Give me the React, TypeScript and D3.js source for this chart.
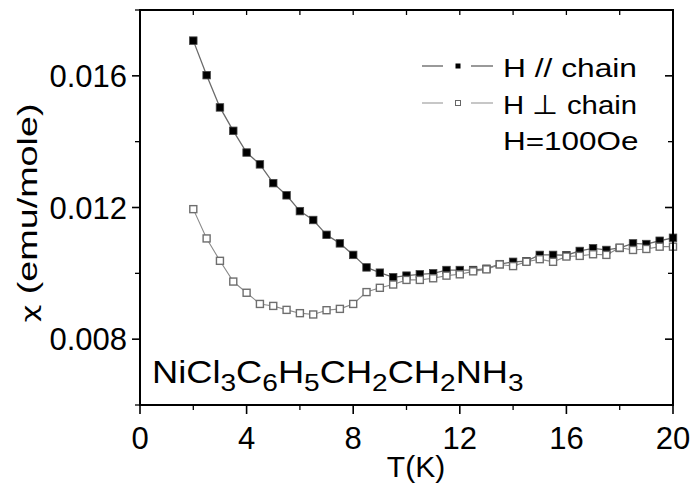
import React from "react";
import * as d3 from "d3";

const temps = [2, 2.5, 3, 3.5, 4, 4.5, 5, 5.5, 6, 6.5, 7, 7.5, 8, 8.5, 9, 9.5, 10, 10.5, 11, 11.5, 12, 12.5, 13, 13.5, 14, 14.5, 15, 15.5, 16, 16.5, 17, 17.5, 18, 18.5, 19, 19.5, 20];
const chiParallel = [0.01707, 0.01602, 0.01504, 0.01433, 0.01367, 0.01331, 0.01274, 0.01237, 0.01189, 0.01162, 0.01117, 0.01091, 0.01056, 0.01018, 0.01002, 0.00988, 0.00993, 0.00997, 0.01000, 0.01010, 0.01010, 0.01010, 0.01014, 0.01028, 0.01035, 0.01037, 0.01056, 0.01056, 0.01055, 0.01068, 0.01076, 0.01071, 0.01077, 0.01091, 0.01089, 0.01099, 0.01108];
const chiPerp = [0.01195, 0.01106, 0.01038, 0.00975, 0.00941, 0.00907, 0.00901, 0.00889, 0.00879, 0.00875, 0.00888, 0.00892, 0.00907, 0.00943, 0.00956, 0.00966, 0.00980, 0.00980, 0.00985, 0.00993, 0.00997, 0.01006, 0.01012, 0.01027, 0.01022, 0.01035, 0.01043, 0.01035, 0.01051, 0.01053, 0.01058, 0.01056, 0.01078, 0.01071, 0.01074, 0.01081, 0.01081];
const xMajorTicks = [0, 4, 8, 12, 16, 20];
const xMinorTicks = [2, 6, 10, 14, 18];
const yMajorTicks = [0.008, 0.012, 0.016];
const yMinorTicks = [0.006, 0.010, 0.014, 0.018];
const legendLabels = ["H // chain", "H \u22A5 chain", "H=100Oe"];

const FONT = "'Liberation Sans', Arial, sans-serif";

export default function App() {
  const left = 140, right = 673, top = 10, bottom = 405;
  const x = d3.scaleLinear().domain([0, 20]).range([left, right]);
  const y = d3.scaleLinear().domain([0.006, 0.018]).range([bottom, top]);
  const line = d3.line<number>().x((_, i) => x(temps[i])).y((d) => y(d));
  const ms = 7.5;
  const mo = 7;

  return (
    <div style={{ position: "fixed", left: 0, top: 0 }}>
      <svg width={692} height={489} style={{ display: "block", background: "#fff" }}>
        <path d={line(chiParallel) || ""} fill="none" stroke="#6a6a6a" strokeWidth={1.3} />
        <path d={line(chiPerp) || ""} fill="none" stroke="#8a8a8a" strokeWidth={1.1} />
        {chiParallel.map((v, i) => (
          <rect key={"p" + i} x={x(temps[i]) - ms / 2} y={y(v) - ms / 2} width={ms} height={ms} fill="#000" stroke="#444" strokeWidth={0.8} />
        ))}
        {chiPerp.map((v, i) => (
          <rect key={"o" + i} x={x(temps[i]) - mo / 2} y={y(v) - mo / 2} width={mo} height={mo} fill="#fff" stroke="#6e6e6e" strokeWidth={1.4} />
        ))}
        <rect x={left} y={top} width={right - left} height={bottom - top} fill="none" stroke="#000" strokeWidth={2} />
        {xMajorTicks.map((t) => (
          <line key={"xb" + t} x1={x(t)} x2={x(t)} y1={bottom} y2={bottom + 9} stroke="#000" strokeWidth={1.6} />
        ))}
        {xMinorTicks.map((t) => (
          <line key={"xbm" + t} x1={x(t)} x2={x(t)} y1={bottom} y2={bottom + 5} stroke="#000" strokeWidth={1.3} />
        ))}
        {[...xMajorTicks, ...xMinorTicks].map((t) => (
          <line key={"xt" + t} x1={x(t)} x2={x(t)} y1={top} y2={top + 5} stroke="#000" strokeWidth={1.3} />
        ))}
        {yMajorTicks.map((t) => (
          <line key={"yl" + t} x1={left - 8} x2={left} y1={y(t)} y2={y(t)} stroke="#000" strokeWidth={1.6} />
        ))}
        {yMinorTicks.map((t) => (
          <line key={"ylm" + t} x1={left - 5} x2={left} y1={y(t)} y2={y(t)} stroke="#000" strokeWidth={1.3} />
        ))}
        {yMajorTicks.map((t) => (
          <line key={"yr" + t} x1={right - 8} x2={right} y1={y(t)} y2={y(t)} stroke="#000" strokeWidth={1.6} />
        ))}
        {yMinorTicks.map((t) => (
          <line key={"yrm" + t} x1={right - 5} x2={right} y1={y(t)} y2={y(t)} stroke="#000" strokeWidth={1.3} />
        ))}
        {xMajorTicks.map((t) => (
          <text key={"xl" + t} x={x(t)} y={449} textAnchor="middle" fontFamily={FONT} fontSize={31} fill="#000">
            {t}
          </text>
        ))}
        {yMajorTicks.map((t) => (
          <text key={"ylb" + t} x={127} y={y(t) + 11} textAnchor="end" fontFamily={FONT} fontSize={31} fill="#000">
            {d3.format(".3f")(t)}
          </text>
        ))}
        <text x={416} y={477} textAnchor="middle" fontFamily={FONT} fontSize={30} fill="#000">T(K)</text>
        <g transform="translate(37,213) rotate(-90)">
          <text x={0} y={0} textAnchor="middle" fontFamily={FONT} fontSize={27} fill="#000" textLength={219} lengthAdjust="spacingAndGlyphs">
            <tspan fontFamily="'DejaVu Sans', sans-serif" fontSize={22}>{"\u03C7"}</tspan>
            {" (emu/mole)"}
          </text>
        </g>
        <g transform="translate(152,383) scale(1.17,1)">
          <text x={0} y={0} fontFamily={FONT} fontSize={31} fill="#000">
            NiCl<tspan fontSize={24} dy={8}>3</tspan>
            <tspan dy={-8}>C</tspan><tspan fontSize={24} dy={8}>6</tspan>
            <tspan dy={-8}>H</tspan><tspan fontSize={24} dy={8}>5</tspan>
            <tspan dy={-8}>CH</tspan><tspan fontSize={24} dy={8}>2</tspan>
            <tspan dy={-8}>CH</tspan><tspan fontSize={24} dy={8}>2</tspan>
            <tspan dy={-8}>NH</tspan><tspan fontSize={24} dy={8}>3</tspan>
          </text>
        </g>
        <line x1={422} x2={443} y1={66} y2={66} stroke="#555" strokeWidth={1.2} />
        <line x1={471} x2={493} y1={66} y2={66} stroke="#555" strokeWidth={1.2} />
        <rect x={455.5} y={63.5} width={5} height={5} fill="#000" />
        <line x1={422} x2={443} y1={103} y2={103} stroke="#999" strokeWidth={1.1} />
        <line x1={471} x2={493} y1={103} y2={103} stroke="#999" strokeWidth={1.1} />
        <rect x={455.5} y={100.5} width={5} height={5} fill="#fff" stroke="#666" strokeWidth={1} />
        {legendLabels.map((l, i) => (
          <text key={l} x={503} y={77 + i * 36.6} fontFamily={FONT} fontSize={26.5} fill="#000" textLength={134 + (i === 2 ? 1.5 : 0)} lengthAdjust="spacingAndGlyphs">
            {l}
          </text>
        ))}
      </svg>
    </div>
  );
}
